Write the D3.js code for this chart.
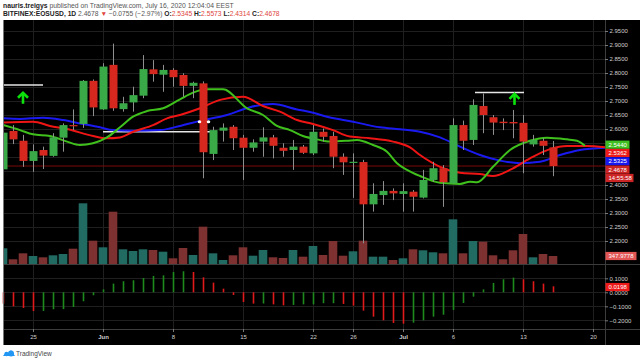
<!DOCTYPE html>
<html><head><meta charset="utf-8">
<script src="https://cdn.jsdelivr.net/npm/d3@7"></script>
<style>html,body{margin:0;padding:0;background:#fff;}svg{display:block;}</style>
</head><body>
<svg id="c" width="640" height="360"></svg>
<script>
// ---------- DATA ----------
const startDate = Date.UTC(2020, 4, 22); // first visible daily candle (May 22, 2020)
const opens  = [2.456,2.593,2.558,2.486,2.525,2.504,2.569,2.614,2.618,2.772,2.670,2.829,2.671,2.695,2.719,2.813,2.794,2.811,2.793,2.754,2.763,2.511,2.594,2.608,2.569,2.533,2.555,2.570,2.533,2.525,2.537,2.513,2.590,2.575,2.501,2.481,2.482,2.331,2.364,2.379,2.368,2.376,2.355,2.418,2.460,2.406,2.614,2.561,2.682,2.642,2.626,2.625,2.622,2.545,2.558,2.5345];
const highs  = [2.595,2.614,2.579,2.545,2.537,2.585,2.620,2.670,2.775,2.777,2.835,2.905,2.715,2.751,2.864,2.846,2.829,2.817,2.799,2.769,2.770,2.608,2.620,2.614,2.579,2.563,2.606,2.579,2.549,2.561,2.543,2.614,2.602,2.590,2.513,2.513,2.490,2.406,2.414,2.388,2.406,2.382,2.454,2.483,2.471,2.638,2.630,2.706,2.727,2.650,2.638,2.668,2.650,2.579,2.567,2.5573];
const lows   = [2.443,2.546,2.465,2.447,2.457,2.501,2.519,2.596,2.604,2.646,2.668,2.665,2.662,2.662,2.710,2.769,2.733,2.751,2.715,2.710,2.424,2.489,2.555,2.525,2.418,2.519,2.501,2.495,2.501,2.454,2.511,2.507,2.555,2.460,2.436,2.354,2.192,2.305,2.329,2.346,2.305,2.305,2.352,2.412,2.322,2.406,2.525,2.543,2.585,2.579,2.596,2.567,2.442,2.537,2.507,2.4314];
const closes = [2.587,2.563,2.486,2.521,2.505,2.570,2.614,2.611,2.772,2.677,2.823,2.674,2.692,2.721,2.814,2.796,2.811,2.785,2.754,2.765,2.517,2.596,2.605,2.567,2.533,2.552,2.570,2.540,2.522,2.537,2.515,2.590,2.572,2.501,2.481,2.483,2.331,2.368,2.379,2.370,2.378,2.358,2.418,2.460,2.410,2.614,2.558,2.686,2.650,2.623,2.621,2.620,2.555,2.561,2.540,2.4678];
const volumes = [683,204,465,348,291,378,435,666,2640,1014,726,2275,639,566,639,609,535,248,696,392,1623,465,174,378,726,361,609,291,261,609,318,783,392,1000,361,552,1014,318,318,174,248,639,596,509,465,1944,465,1000,970,378,204,596,1305,291,435,348];
const oscValues = [-0.081,-0.100,-0.112,-0.134,-0.133,-0.121,-0.120,-0.105,-0.064,-0.021,0.021,0.062,0.079,0.086,0.102,0.117,0.121,0.145,0.150,0.145,0.107,0.069,0.026,-0.019,-0.069,-0.081,-0.080,-0.086,-0.093,-0.090,-0.086,-0.086,-0.078,-0.078,-0.083,-0.095,-0.131,-0.174,-0.200,-0.219,-0.224,-0.217,-0.200,-0.174,-0.160,-0.126,-0.076,-0.031,0.021,0.067,0.093,0.105,0.093,0.079,0.062,0.043];

// moving averages (day offset from startDate, value)
const greenDays = [0,1.7,3,4.7,6.4,7.7,9,10.4,11.7,13,14.4,16,17.7,19,20.4,22,24.4,26,27.4,28.7,30,31.4,32.7,34.4,35.4,37,38.4,39.4,40.4,41.7,43.7,45.7,46.7,47.4,49,50.7,52.7,54.4,56.4,57.4,58.2];
const greenMA   = [2.614,2.596,2.581,2.575,2.555,2.543,2.549,2.570,2.606,2.644,2.664,2.674,2.706,2.730,2.742,2.742,2.674,2.650,2.611,2.596,2.575,2.563,2.555,2.558,2.561,2.543,2.519,2.478,2.454,2.432,2.408,2.404,2.412,2.410,2.465,2.525,2.558,2.569,2.563,2.558,2.540];
const redDays = [0,3,4.7,6.4,9,10.4,11.7,13,15,16.4,17.7,19.7,21.7,24,26,27.7,29.4,31,33,34.7,36.7,39,40.7,41.7,43.7,45.7,47.7,49,50.7,52.7,54.7,56.4,58.4,60.2];
const redMA   = [2.623,2.626,2.611,2.600,2.575,2.567,2.570,2.590,2.614,2.638,2.650,2.674,2.704,2.715,2.682,2.662,2.632,2.618,2.596,2.573,2.567,2.555,2.534,2.507,2.465,2.444,2.439,2.432,2.454,2.495,2.528,2.539,2.539,2.535];
const blueDays = [0,1.7,4,6,7.7,9.7,11,13,15.7,17.7,19.7,22.4,24.7,27,29.4,31,32.4,35,37.7,39.7,41.7,43.7,45.7,47.7,49.7,51.7,53.7,55.7,57.7,60.2];
const blueMA   = [2.638,2.636,2.640,2.632,2.620,2.606,2.596,2.594,2.596,2.611,2.629,2.650,2.678,2.689,2.670,2.658,2.644,2.626,2.606,2.599,2.590,2.570,2.537,2.507,2.487,2.478,2.483,2.507,2.525,2.533];

// drawn annotations (day offsets / prices)
const hLineFrom   = [-0.3, 10, 47.2];
const hLineTo     = [4, 20.8, 52.1];
const hLinePrice  = [2.757, 2.590, 2.730];
const arrowDays   = [2, 51.15];
const arrowPrices = [2.733, 2.729];
const handleDays  = [19.65, 20.55];
const handlePrice = 2.626;

const tickDates  = [Date.UTC(2020,4,25),Date.UTC(2020,5,1),Date.UTC(2020,5,8),Date.UTC(2020,5,15),Date.UTC(2020,5,22),Date.UTC(2020,5,26),Date.UTC(2020,6,1),Date.UTC(2020,6,6),Date.UTC(2020,6,13),Date.UTC(2020,6,20)];
const tickLabels = ["25","Jun","8","15","22","26","Jul","6","13","20"];
const priceTicks = [2.2,2.25,2.3,2.35,2.4,2.6,2.65,2.7,2.75,2.8,2.85,2.9,2.95];
const gridPrices = [2.2,2.25,2.3,2.35,2.4,2.45,2.5,2.55,2.6,2.65,2.7,2.75,2.8,2.85,2.9,2.95];
const oscTicks = [0.1,0,-0.1,-0.2];

const lastPrice = 2.4678;
const priceLabels = [
  {text:"2.5440", value:2.5440, bg:"#3fbf22"},
  {text:"2.5362", value:2.5362, bg:"#ee1a1a"},
  {text:"2.5325", value:2.5325, bg:"#1717ee"},
  {text:"2.4678", value:2.4678, bg:"#cc2424"},
  {text:"14:55:58", value:2.4678, bg:"#cc2424"}
];
const volLabel = {text:"347.9778", value:348};
const oscLabel = {text:"0.0198", value:0.0198};

// ---------- DRAW ----------
const svg = d3.select("#c");
const L = 3, R = 605, T = 20, volBase = 264, oscBottom = 329, axisBottom = 345;
const DAY = 864e5;
const x = d3.scaleUtc().domain([startDate, startDate + 61*DAY]).range([3, 613]);
const xd = d => x(startDate + d*DAY);
const y = d3.scaleLinear().domain([2.4, 2.95]).range([185, 31]);
const yVol = d3.scaleLinear().domain([0, 3480]).range([volBase, 184]);
const yOsc = d3.scaleLinear().domain([-0.2, 0.1]).range([320.3, 278.3]);
const FONT = "'Liberation Sans', Arial, sans-serif";

// header
const h1 = svg.append("text").attr("x",3).attr("y",7.6).attr("font-family",FONT).attr("font-size",6.8).attr("fill","#555");
h1.append("tspan").attr("font-weight","bold").attr("fill","#222").text("nauris.treigys");
h1.append("tspan").text(" published on TradingView.com, July 16, 2020 12:04:04 EEST");
const h2 = svg.append("text").attr("x",3).attr("y",16.4).attr("font-family",FONT).attr("font-size",6.7).attr("fill","#555");
const red = "#e0443c";
[["BITFINEX:EOSUSD, 1D","#222","bold"],[" 2.4678 ","#555","normal"],["▼",red,"normal"],[" −0.0755 (−2.97%) ","#555","normal"],
 ["O:","#222","bold"],["2.5345",red,"normal"],[" H:","#222","bold"],["2.5573",red,"normal"],[" L:","#222","bold"],["2.4314",red,"normal"],[" C:","#222","bold"],["2.4678",red,"normal"]]
 .forEach(([t,c,w]) => h2.append("tspan").attr("fill",c).attr("font-weight",w).text(t));

// black chart background
svg.append("rect").attr("x",L).attr("y",T).attr("width",640-L).attr("height",axisBottom-T).attr("fill","#000");

// grids
const grid = svg.append("g").attr("stroke","#1f1f1f").attr("stroke-width",1);
grid.selectAll("line.h").data(gridPrices).join("line").attr("x1",L).attr("x2",R)
  .attr("y1",d=>Math.round(y(d))+0.5).attr("y2",d=>Math.round(y(d))+0.5);
grid.selectAll("line.o").data(oscTicks).join("line").attr("x1",L).attr("x2",R)
  .attr("y1",d=>Math.round(yOsc(d))+0.5).attr("y2",d=>Math.round(yOsc(d))+0.5);
grid.selectAll("line.v").data(tickDates).join("line").attr("y1",T).attr("y2",oscBottom)
  .attr("x1",d=>Math.round(x(d))+0.5).attr("x2",d=>Math.round(x(d))+0.5);

// price pane clip
svg.append("clipPath").attr("id","pc").append("rect").attr("x",L).attr("y",T).attr("width",R-L).attr("height",volBase-T);
const pane = svg.append("g").attr("clip-path","url(#pc)");

const idx = d3.range(opens.length);
const up = i => closes[i] >= opens[i];

// volume
pane.append("g").selectAll("rect").data(idx).join("rect")
  .attr("x",i=>xd(i)-4.3).attr("width",8.6)
  .attr("y",i=>yVol(volumes[i])).attr("height",i=>volBase-yVol(volumes[i]))
  .attr("fill",i=>up(i)?"#226b63":"#7e3131");

// last price line
pane.append("line").attr("x1",L).attr("x2",R).attr("y1",y(lastPrice)).attr("y2",y(lastPrice))
  .attr("stroke","#7a0b0b").attr("stroke-width",1);

// annotation horizontal lines
pane.append("g").selectAll("line").data(hLinePrice).join("line")
  .attr("x1",(d,i)=>xd(hLineFrom[i])).attr("x2",(d,i)=>xd(hLineTo[i]))
  .attr("y1",d=>y(d)).attr("y2",d=>y(d)).attr("stroke","#e6e6e6").attr("stroke-width",1.5);

// moving averages
const maLine = (days, vals) => d3.line().x((d,i)=>xd(days[i])).y(d=>y(d)).curve(d3.curveMonotoneX)(vals);
pane.append("path").attr("d",maLine(blueDays,blueMA)).attr("fill","none").attr("stroke","#1a1af0").attr("stroke-width",2);
pane.append("path").attr("d",maLine(redDays,redMA)).attr("fill","none").attr("stroke","#f01515").attr("stroke-width",2);
pane.append("path").attr("d",maLine(greenDays,greenMA)).attr("fill","none").attr("stroke","#3fc01c").attr("stroke-width",2);

// candles
const cg = pane.append("g");
cg.selectAll("line").data(idx).join("line")
  .attr("x1",i=>xd(i)+0.5).attr("x2",i=>xd(i)+0.5)
  .attr("y1",i=>y(highs[i])).attr("y2",i=>y(lows[i]))
  .attr("stroke","#8f8f8f").attr("stroke-width",1);
cg.selectAll("rect").data(idx).join("rect")
  .attr("x",i=>xd(i)-3.5).attr("width",8)
  .attr("y",i=>y(Math.max(opens[i],closes[i])))
  .attr("height",i=>Math.max(1.2, Math.abs(y(opens[i])-y(closes[i]))))
  .attr("fill",i=>up(i)?"#3aa948":"#d6281f");

// handles
pane.append("g").selectAll("ellipse").data(handleDays).join("ellipse")
  .attr("cx",d=>xd(d)).attr("cy",y(handlePrice)).attr("rx",1.8).attr("ry",1.5).attr("fill","#fff");

// arrows
const ag = pane.append("g").attr("stroke","#0ce40c").attr("stroke-width",2.6).attr("fill","none").attr("stroke-linecap","butt");
arrowDays.forEach((d,i) => {
  const ax = xd(d), ay = y(arrowPrices[i]);
  ag.append("path").attr("d",`M${ax-5},${ay+6} L${ax},${ay+1} L${ax+5},${ay+6}`);
  ag.append("line").attr("x1",ax).attr("x2",ax).attr("y1",ay+1.5).attr("y2",ay+12);
});

// oscillator histogram
svg.append("g").selectAll("rect").data(oscValues).join("rect")
  .attr("x",(d,i)=>xd(i)-0.3).attr("width",1.6)
  .attr("y",d=>Math.min(yOsc(d),yOsc(0))).attr("height",d=>Math.abs(yOsc(d)-yOsc(0)))
  .attr("fill",(d,i)=> (i>0 && d>=oscValues[i-1]) ? "#1e8a1e" : "#e01a1a");

// separators
const sep = svg.append("g").attr("stroke","#3c3c3c").attr("stroke-width",1);
sep.append("line").attr("x1",L).attr("x2",640).attr("y1",volBase+0.5).attr("y2",volBase+0.5);
sep.append("line").attr("x1",L).attr("x2",640).attr("y1",oscBottom+0.5).attr("y2",oscBottom+0.5);
sep.append("line").attr("x1",R+0.5).attr("x2",R+0.5).attr("y1",T).attr("y2",axisBottom);
svg.append("line").attr("x1",L+0.5).attr("x2",L+0.5).attr("y1",T).attr("y2",axisBottom).attr("stroke","#777");

// axes
const styleAxis = g => {
  g.select(".domain").remove();
  g.selectAll("line").attr("stroke","#777");
  g.selectAll("text").attr("fill","#cfcfcf").attr("font-family",FONT).attr("font-size",6);
};
svg.append("g").attr("transform",`translate(${R},0)`)
  .call(d3.axisRight(y).tickValues(priceTicks).tickFormat(d3.format(".4f")).tickSize(3).tickPadding(1.5)).call(styleAxis);
svg.append("g").attr("transform",`translate(${R},0)`)
  .call(d3.axisRight(yOsc).tickValues(oscTicks).tickFormat(d3.format(".4f")).tickSize(3).tickPadding(1.5)).call(styleAxis);
const xa = svg.append("g").attr("transform",`translate(0,${oscBottom})`)
  .call(d3.axisBottom(x).tickValues(tickDates).tickFormat((d,i)=>tickLabels[i]).tickSize(3).tickPadding(3)).call(styleAxis);
xa.selectAll("text").attr("font-weight",(d,i)=>/J/.test(tickLabels[i])?"bold":"normal");

// value labels on the right axis
const lblH = 8.2;
let prevY = -Infinity;
const placed = priceLabels.map((p,i) => {
  let cy = y(p.value);
  if (i === priceLabels.length-1) cy = prevY + lblH + 0.2;
  else cy = Math.max(cy, prevY + lblH + 0.1);
  prevY = cy;
  return {...p, cy};
});
const drawLabel = (text, cy, bg, w) => {
  const g = svg.append("g");
  g.append("rect").attr("x",R+0.5).attr("y",cy-lblH/2).attr("width",w).attr("height",lblH).attr("fill",bg);
  g.append("text").attr("x",R+3.5).attr("y",cy+2.1).attr("fill","#fff").attr("font-family",FONT).attr("font-size",6).text(text);
};
placed.forEach(p => drawLabel(p.text, p.cy, p.bg, p.text.length>6?28:24));
drawLabel(volLabel.text, yVol(volLabel.value), "#e25555", 31);
drawLabel(oscLabel.text, yOsc(oscLabel.value)-2.5, "#ee1a1a", 24);

// footer logo
const logo = svg.append("g").attr("transform","translate(3,349)");
logo.append("path").attr("d","M0,7 L3,3 L5,5 L8,1 L12,7 Z").attr("fill","#2196f3");
logo.append("circle").attr("cx",8).attr("cy",4.5).attr("r",3).attr("fill","#2196f3");
logo.append("circle").attr("cx",3.5).attr("cy",5).attr("r",2.2).attr("fill","#2196f3");
svg.append("text").attr("x",16).attr("y",355.5).attr("font-family",FONT).attr("font-size",6.5).attr("fill","#444").text("TradingView");
</script>
</body></html>
